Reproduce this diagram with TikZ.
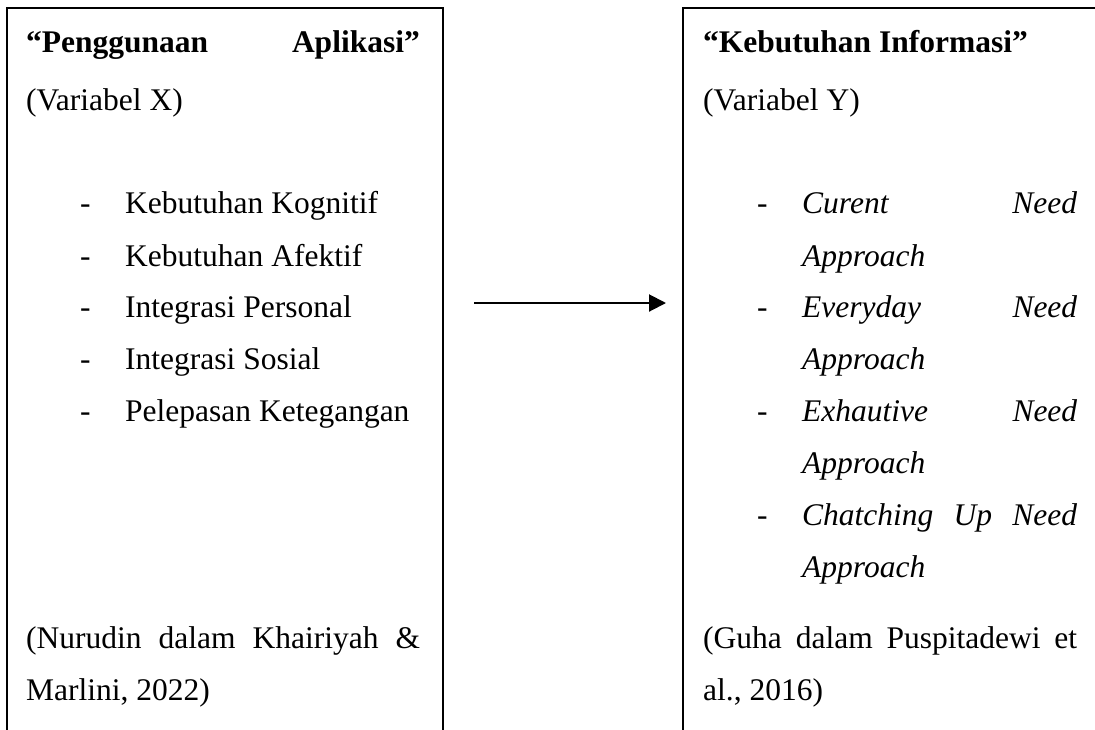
\documentclass[tikz,border=0pt]{standalone}
\usepackage{fontspec}
\setmainfont{Liberation Serif}
\usetikzlibrary{arrows.meta}
\tikzset{
  txt/.style={inner sep=0pt, anchor=base west, font=\fontsize{31.5}{36}\selectfont},
  txtr/.style={txt, anchor=base east},
  frame/.style={line width=2pt},
  link/.style={line width=2pt, -{Triangle[length=17pt,width=17pt]}}
}
\begin{document}
\begin{tikzpicture}[x=1pt,y=-1pt]
\useasboundingbox (0,0) rectangle (1095,729);
\clip (0,0) rectangle (1095,729);
\fill[white] (0,0) rectangle (1095,729);
% frames (open at the bottom / clipped)
\draw[frame] (7,745) -- (7,8) -- (443,8) -- (443,745);
\draw[frame] (683,745) -- (683,8) -- (1110,8) -- (1110,745);
% left box
\node[txt]  (lt1) at (26,52)  {\bfseries “Penggunaan};
\node[txtr] (lt2) at (420,52) {\bfseries Aplikasi”};
\node[txt]  (lv)  at (26,110) {(Variabel X)};
\node[txt] (ld1) at (80,213) {-}; \node[txt] (li1) at (125,213) {Kebutuhan Kognitif};
\node[txt] (ld2) at (80,266) {-}; \node[txt] (li2) at (125,266) {Kebutuhan Afektif};
\node[txt] (ld3) at (80,317) {-}; \node[txt] (li3) at (125,317) {Integrasi Personal};
\node[txt] (ld4) at (80,369) {-}; \node[txt] (li4) at (125,369) {Integrasi Sosial};
\node[txt] (ld5) at (80,421) {-}; \node[txt] (li5) at (125,421) {Pelepasan Ketegangan};
\node[txt] (lc1) at (26,648) {\makebox[394pt][s]{(Nurudin dalam Khairiyah \&}};
\node[txt] (lc2) at (26,700) {Marlini, 2022)};
% right box
\node[txt] (rt) at (703,52)  {\bfseries “Kebutuhan Informasi”};
\node[txt] (rv) at (703,110) {(Variabel Y)};
\node[txt] (rd1) at (757,213) {-}; \node[txt] (ri1) at (802,213) {\makebox[275pt][s]{\itshape Curent Need}};
\node[txt] (ra1) at (802,266) {\itshape Approach};
\node[txt] (rd2) at (757,317) {-}; \node[txt] (ri2) at (802,317) {\makebox[275pt][s]{\itshape Everyday Need}};
\node[txt] (ra2) at (802,369) {\itshape Approach};
\node[txt] (rd3) at (757,421) {-}; \node[txt] (ri3) at (802,421) {\makebox[275pt][s]{\itshape Exhautive Need}};
\node[txt] (ra3) at (802,473) {\itshape Approach};
\node[txt] (rd4) at (757,525) {-}; \node[txt] (ri4) at (802,525) {\makebox[275pt][s]{\itshape Chatching Up Need}};
\node[txt] (ra4) at (802,577) {\itshape Approach};
\node[txt] (rc1) at (703,648) {\makebox[374pt][s]{(Guha dalam Puspitadewi et}};
\node[txt] (rc2) at (703,700) {al., 2016)};
% arrow
\coordinate (a0) at (474,303);
\coordinate (a1) at (666,303);
\draw[link] (a0) -- (a1);
\end{tikzpicture}
\end{document}
